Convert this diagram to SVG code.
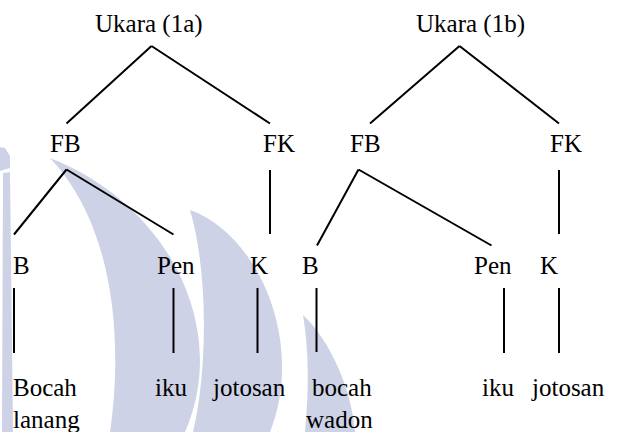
<svg xmlns="http://www.w3.org/2000/svg" width="629" height="432" viewBox="0 0 629 432">
<style>
.e{stroke:#000;stroke-width:2;fill:none;stroke-linecap:butt}
.w{fill:#cdd2e6;stroke:none}
</style>
<rect width="629" height="432" fill="#fff"/>
<g id="watermark">
<path class="w" d="M0,147 L5,148 L10,156 L10,168 L0,171 Z"/>
<path class="w" d="M3,173 L10,172 L13,432 L2,432 Z"/>
<path class="w" d="M50,158 C170,205 230,330 185,432 L110,432 C122,350 118,230 50,158 Z"/>
<path class="w" d="M190,210 C260,235 305,345 270,432 L193,432 C208,370 208,270 190,210 Z"/>
<path class="w" d="M303,315 C330,340 352,390 355,432 L305,432 C309,390 309,350 303,315 Z"/>
</g>
<g id="connectors">
<path class="e" d="M151.5,46 L66.5,123.5 M151.5,46 L270,123.5"/>
<path class="e" d="M270,170 L270,234"/>
<path class="e" d="M66.5,169.5 L14,234.5 M66.5,169.5 L173.5,234.5"/>
<path class="e" d="M14,288 L14,353 M173.5,288 L173.5,353 M257.5,288 L257.5,353"/>
<path class="e" d="M459.5,46 L370,123.5 M459.5,46 L559,123.5"/>
<path class="e" d="M559,170 L559,234"/>
<path class="e" d="M358.5,169.5 L317,245.5 M358.5,169.5 L491.5,245.5"/>
<path class="e" d="M316.5,288 L316.5,352 M504,288 L504,353 M559,288 L559,353"/>
</g>
<g font-family="Liberation Serif, DejaVu Serif, serif" font-size="25" fill="#000">
<g id="n_ukara1a"><text x="95" y="32">Ukara (1a)</text></g>
<g id="n_ukara1b"><text x="416" y="32">Ukara (1b)</text></g>
<g id="n_fb1a"><text x="50" y="152">FB</text></g>
<g id="n_fk1a"><text x="263" y="152">FK</text></g>
<g id="n_fb1b"><text x="350" y="152">FB</text></g>
<g id="n_fk1b"><text x="550" y="152">FK</text></g>
<g id="n_b1a"><text x="13" y="274">B</text></g>
<g id="n_pen1a"><text x="157" y="274">Pen</text></g>
<g id="n_k1a"><text x="250" y="274">K</text></g>
<g id="n_b1b"><text x="302" y="274">B</text></g>
<g id="n_pen1b"><text x="474" y="274">Pen</text></g>
<g id="n_k1b"><text x="540" y="274">K</text></g>
<g id="n_bocahlanang"><text x="13" y="396">Bocah</text><text x="13" y="428">lanang</text></g>
<g id="n_iku1a"><text x="155" y="396">iku</text></g>
<g id="n_jotosan1a"><text x="213" y="396">jotosan</text></g>
<g id="n_bocahwadon"><text x="312" y="396">bocah</text><text x="306" y="428">wadon</text></g>
<g id="n_iku1b"><text x="482" y="396">iku</text></g>
<g id="n_jotosan1b"><text x="532" y="396">jotosan</text></g>
</g>
</svg>
